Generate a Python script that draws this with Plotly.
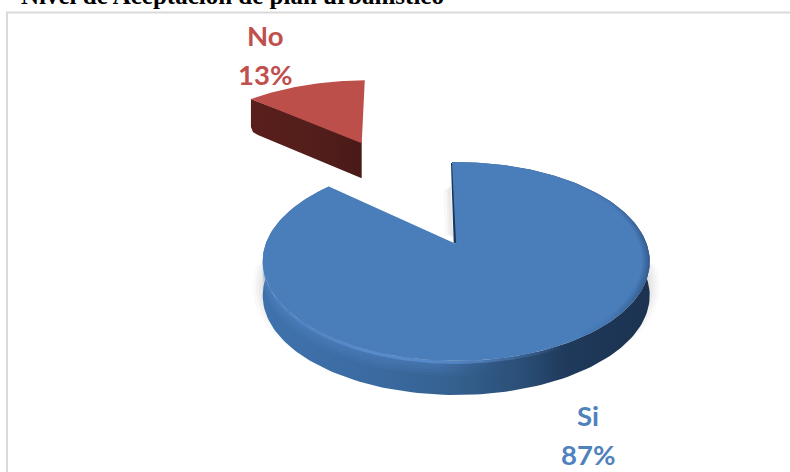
import math
import plotly.graph_objects as go

# Survey result shares
categories = ["Si", "No"]
shares = [87, 13]
title_text = "Nivel de Aceptación de plan urbanístico"

FIRST_SLICE_START = -1.5   # degrees clockwise from the back of the disc
SI_TOP = "#4a7ebb"
NO_TOP = "#bd4f4b"
SI_TEXT = "#4f81bd"
NO_TEXT = "#c0504d"
LABEL_FONT = "Lato"


def project(theta, r=1.0, cx=456.2, cy=244.0, sx=190.5, sy=96.4, k=0.176, shear=0.0, dy=0.0):
    """Perspective view of a point on the flat disc, in page pixels."""
    a = math.radians(theta)
    X, Y = r * math.sin(a), r * math.cos(a)
    w = 1 + k * Y
    up = sy * Y / w
    return cx + sx * X / w + shear * up, cy - up + dy


def arc(t0, t1, n=120, **kw):
    pts = [project(t0 + (t1 - t0) * i / n, **kw) for i in range(n + 1)]
    return [p[0] for p in pts], [p[1] for p in pts]


def poly(xs, ys, color=None, gradient=None):
    kw = dict(x=xs + xs[:1], y=ys + ys[:1], mode="lines", fill="toself",
              line=dict(width=0), hoverinfo="skip", showlegend=False)
    if gradient:
        kw["fillgradient"] = dict(type="horizontal", colorscale=gradient)
        kw["fillcolor"] = "rgba(0,0,0,0)"
    else:
        kw["fillcolor"] = color
    return go.Scatter(**kw)


# Angular spans follow directly from the shares
si_span = shares[0] / sum(shares) * 360
no_span = shares[1] / sum(shares) * 360
si_start = FIRST_SLICE_START
si_end = si_start + si_span
no_start = FIRST_SLICE_START - no_span
no_end = FIRST_SLICE_START

traces = []
DEPTH = 34

# Soft ground shadow under the front of the large slice
for grow, alpha in [(10, 0.035), (7, 0.05), (4, 0.06), (1, 0.07)]:
    xs, ys = arc(88, 272, 120, sx=190.5 + grow, sy=96.4 + grow * 0.6, dy=24)
    ys = [min(y, 380) for y in ys]
    traces.append(poly(xs, ys, f"rgba(120,120,120,{alpha})"))

# Faint shadow beside the gap
for shift, alpha in [(7, 0.05), (4, 0.07), (2, 0.09)]:
    traces.append(poly([450 - shift, 451, 453, 452 - shift], [190, 186, 238, 234],
                       f"rgba(140,140,140,{alpha})"))

# Outer rim of the large slice
ux, uy = arc(si_start, si_end, 200)
lx, ly = arc(si_start, si_end, 200, dy=DEPTH)
rim_scale = [[0, "#3f72ad"], [0.3, "#3b6aa0"], [0.5, "#34608f"], [0.68, "#2a4d75"],
             [0.78, "#1f3a5c"], [1, "#1c3250"]]
traces.append(poly(ux + lx[::-1], uy + ly[::-1], gradient=rim_scale))

# Lit bevel along the front of the rim, built up in thin layers so it fades downward
for drop in (15, 12, 9, 6, 3):
    ux, uy = arc(100, 272, 120)
    lx, ly = arc(100, 272, 120, dy=drop)
    traces.append(poly(ux + lx[::-1], uy + ly[::-1], gradient=[
        [0, "rgba(88,138,205,0.10)"], [0.45, "rgba(88,138,205,0.11)"], [0.72, "rgba(30,55,90,0.0)"],
        [1, "rgba(30,55,90,0.0)"]]))
ux, uy = arc(150, 255, 120)
lx, ly = arc(150, 255, 120, dy=3)
traces.append(poly(ux + lx[::-1], uy + ly[::-1], gradient=[
    [0, "rgba(100,155,225,0.1)"], [0.35, "rgba(100,155,225,0.55)"], [0.7, "rgba(100,155,225,0.5)"],
    [1, "rgba(100,155,225,0.0)"]]))

# Dark sliver of the inner cut wall
tx, ty = project(si_start)
ax, ay = project(0, r=0)
traces.append(poly([tx - 1, ax - 2.5, ax + 1, tx + 0.5], [ty + 1, ay - 1, ay, ty + 1], "#1c3a5e"))

# Top face of the large slice
xs, ys = arc(si_start, si_end, 240)
traces.append(poly(xs + [ax], ys + [ay], SI_TOP))

# Edge shading on the top face, fading inward
for ring in (0.965, 0.975, 0.985, 0.993):
    ux, uy = arc(35, 145, 80)
    lx, ly = arc(35, 145, 80, r=ring)
    traces.append(poly(ux + lx[::-1], uy + ly[::-1], gradient=[
        [0, "rgba(30,60,100,0.0)"], [0.6, "rgba(30,60,100,0.04)"], [1, "rgba(30,60,100,0.16)"]]))

# Exploded slice: side wall, then top face
NO_VIEW = dict(cx=361.7, cy=143.3, sx=173.0, sy=74.2, shear=0.11)
ox, oy = project(0, r=0, **NO_VIEW)
lcx, lcy = project(no_start, **NO_VIEW)
traces.append(poly([lcx, lcx, lcx + 2, lcx + 7, ox, ox],
                   [lcy, lcy + 28, lcy + 33, lcy + 36, oy + DEPTH + 1, oy - 2],
                   gradient=[[0, "#591f1c"], [0.6, "#521e1b"], [1, "#491a18"]]))
xs, ys = arc(no_start, no_end, 60, **NO_VIEW)
traces.append(poly(xs + [ox], ys + [oy], NO_TOP))

fig = go.Figure(traces)

annotations = [dict(x=20, y=10.5, xanchor="left", yanchor="bottom", text=f"<b>{title_text}</b>",
                    showarrow=False, borderpad=0,
                    font=dict(family="Liberation Serif", size=25, color="#000000"),
                    xref="x", yref="y")]

LABEL_SPOTS = {"Si": (588, 415, 454), "No": (265, 35, 74)}
LABEL_COLORS = {"Si": SI_TEXT, "No": NO_TEXT}
for name, share in zip(categories, shares):
    lx0, y1, y2 = LABEL_SPOTS[name]
    for y, text in ((y1, f"<b>{name}</b>"), (y2, f"<b>{share}%</b>")):
        annotations.append(dict(x=lx0, y=y, xref="x", yref="y", text=text, showarrow=False,
                                xanchor="center", yanchor="middle",
                                font=dict(family=LABEL_FONT, size=27.5, color=LABEL_COLORS[name])))

frame = dict(color="#d9d9d9", width=2)
fig.update_layout(
    width=790, height=472, margin=dict(l=0, r=0, t=0, b=0),
    paper_bgcolor="#ffffff", plot_bgcolor="#ffffff", showlegend=False,
    xaxis=dict(range=[0, 790], visible=False, fixedrange=True),
    yaxis=dict(range=[472, 0], visible=False, fixedrange=True),
    annotations=annotations,
    shapes=[dict(type="line", xref="x", yref="y", x0=7, x1=7, y0=12.5, y1=472, line=frame, layer="below"),
            dict(type="line", xref="x", yref="y", x0=6, x1=790, y0=12.5, y1=12.5, line=frame, layer="below")],
)
fig.write_html("out.html", config=dict(displayModeBar=False))
